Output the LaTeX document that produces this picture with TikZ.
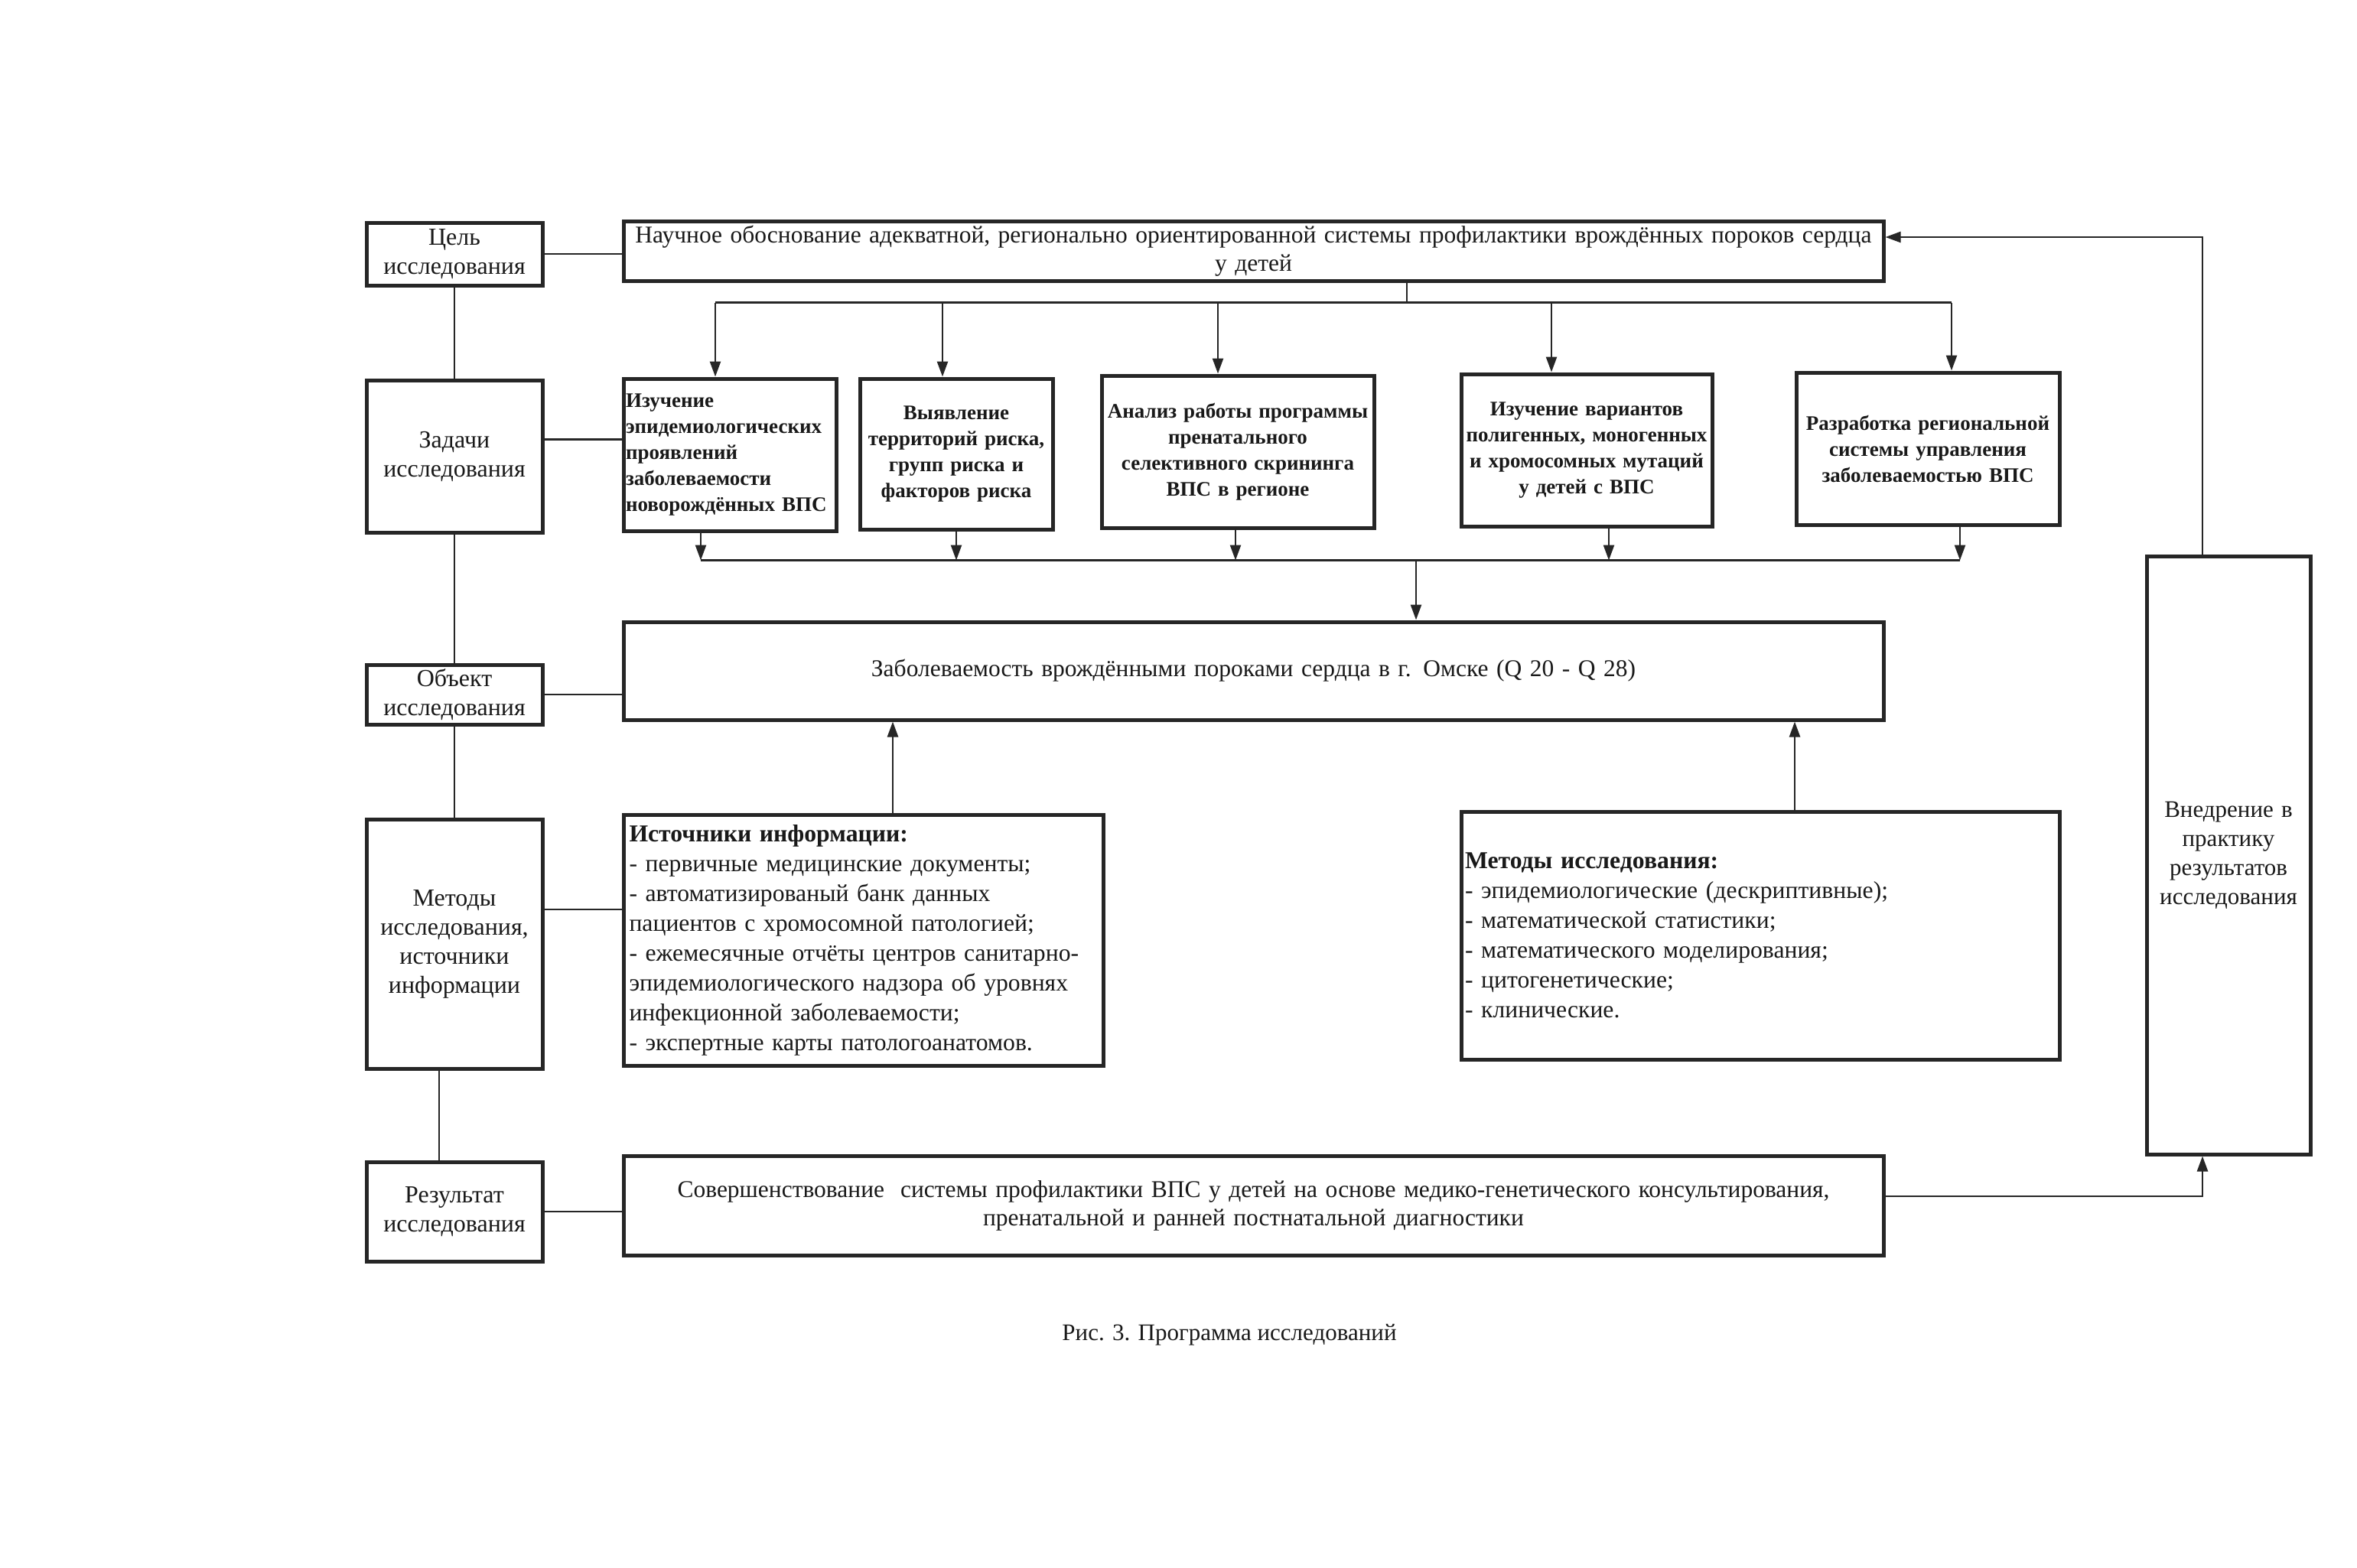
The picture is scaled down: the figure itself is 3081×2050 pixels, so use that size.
\documentclass[tikz,border=0pt]{standalone}
\usepackage{fontspec}
\setmainfont{Liberation Serif}
\usetikzlibrary{arrows.meta,calc}
\begin{document}
\begin{tikzpicture}[x=1pt,y=-1pt,
 box/.style={draw=black!85, line width=5pt, inner sep=4pt, text=black!90, font=\fontsize{31.5}{37}\selectfont, align=center},
 lab/.style={box, minimum width=230pt, text width=222pt, font=\fontsize{32}{38}\selectfont},
 task/.style={box, font=\bfseries\fontsize{27}{34}\selectfont},
 list/.style={box, align=left, font=\fontsize{31.7}{39}\selectfont},
 conn/.style={line width=2.5pt, draw=black!85},
 arr/.style={conn, -{Triangle[length=20pt,width=14pt]}},
]
\useasboundingbox[fill=white] (0,0) rectangle (3081,2050);

% left column
\node[lab, minimum height=82pt] (cel) at (594,332) {Цель\\исследования};
\node[lab, minimum height=199pt] (zad) at (594,596.5) {Задачи\\исследования};
\node[lab, minimum height=78pt] (obj) at (594,908) {Объект\\исследования};
\node[lab, minimum height=326pt] (met) at (594,1234) {Методы\\исследования,\\источники\\информации};
\node[lab, minimum height=130pt] (res) at (594,1584) {Результат\\исследования};

% goal
\node[box, minimum width=1647pt, minimum height=78pt, text width=1641pt, inner sep=3pt] (goal) at (1638.5,328)
 {Научное обоснование адекватной, регионально ориентированной системы профилактики врождённых пороков сердца\\у детей};

% tasks
\node[task, minimum width=278pt, minimum height=199pt, text width=272pt, inner sep=3pt, align=left] (t1) at (954,594.5)
 {Изучение\\эпидемиологических\\проявлений\\заболеваемости\\новорождённых ВПС};
\node[task, minimum width=252pt, minimum height=197pt, text width=246pt, inner sep=3pt] (t2) at (1250,593.5)
 {Выявление\\территорий риска,\\групп риска и\\факторов риска};
\node[task, minimum width=356pt, minimum height=199pt, text width=350pt, inner sep=3pt] (t3) at (1618,590.5)
 {Анализ работы программы\\пренатального\\селективного скрининга\\ВПС в регионе};
\node[task, minimum width=328pt, minimum height=199pt, text width=322pt, inner sep=3pt] (t4) at (2074,588.5)
 {Изучение вариантов\\полигенных, моногенных\\и хромосомных мутаций\\у детей с ВПС};
\node[task, minimum width=344pt, minimum height=199pt, text width=338pt, inner sep=3pt] (t5) at (2520,586.5)
 {Разработка региональной\\системы управления\\заболеваемостью ВПС};

% object
\node[box, minimum width=1647pt, minimum height=128pt, text width=1639pt] (zab) at (1638.5,877)
 {Заболеваемость врождёнными пороками сердца в г. Омске (Q 20 - Q 28)};

% sources and methods
\node[list, minimum width=627pt, minimum height=328pt, text width=612pt] (src) at (1128.5,1229)
 {\textbf{Источники информации:}\\- первичные медицинские документы;\\- автоматизированый банк данных\\пациентов с хромосомной патологией;\\- ежемесячные отчёты центров санитарно-\\эпидемиологического надзора об уровнях\\инфекционной заболеваемости;\\- экспертные карты патологоанатомов.};
\node[list, minimum width=782pt, minimum height=324pt, text width=772pt] (met2) at (2301,1223)
 {\textbf{Методы исследования:}\\- эпидемиологические (дескриптивные);\\- математической статистики;\\- математического моделирования;\\- цитогенетические;\\- клинические.};

% result
\node[box, minimum width=1647pt, minimum height=130pt, text width=1639pt] (sov) at (1638.5,1576)
 {Совершенствование\ \ системы профилактики ВПС у детей на основе медико-генетического консультирования,\\пренатальной и ранней постнатальной диагностики};

% implementation
\node[box, minimum width=214pt, minimum height=782pt, text width=206pt, font=\fontsize{31}{38}\selectfont] (vn) at (2913,1118)
 {Внедрение в\\практику\\результатов\\исследования};

% caption
\node[font=\fontsize{31}{36}\selectfont, text=black!90] (cap) at (1607,1745) {Рис. 3. Программа исследований};

% left spine
\draw[conn] (cel) -- (zad);
\draw[conn] (zad) -- (obj);
\draw[conn] (obj) -- (met);
\draw[conn] ([xshift=-20pt]met.south) -- ([xshift=-20pt]res.north);

% horizontal links
\draw[conn] (cel.east) -- (cel.east -| goal.west);
\draw[conn] ([yshift=22pt]zad.east) -- ([yshift=22pt]zad.east -| t1.west);
\draw[conn] (obj.east) -- (obj.east -| zab.west);
\draw[conn] ([yshift=45pt]met.east) -- ([yshift=45pt]met.east -| src.west);
\draw[conn] (res.east) -- (res.east -| sov.west);

% top distribution
\coordinate (stem) at ([xshift=200.5pt]goal.south);
\coordinate (bt) at ($(stem)+(0,26)$);
\draw[conn] (stem) -- (bt);
\coordinate (a1) at ([xshift=-19pt]t1.north);
\coordinate (a2) at ([xshift=-18pt]t2.north);
\coordinate (a3) at ([xshift=-26pt]t3.north);
\coordinate (a4) at ([xshift=-46pt]t4.north);
\coordinate (a5) at ([xshift=31pt]t5.north);
\draw[conn] (a1 |- bt) -- (a5 |- bt);
\foreach \i in {1,...,5} {\draw[arr] (a\i |- bt) -- (a\i);}

% bottom collection
\coordinate (bb) at ([xshift=212.5pt,yshift=78pt]zab.north);
\coordinate (b1) at ([xshift=-38pt]t1.south);
\coordinate (b2) at (t2.south);
\coordinate (b3) at ([xshift=-3pt]t3.south);
\coordinate (b4) at ([xshift=29pt]t4.south);
\coordinate (b5) at ([xshift=42pt]t5.south);
\foreach \i in {1,...,5} {\draw[arr] (b\i) -- (b\i |- bb);}
\draw[conn] (b1 |- bb) -- (b5 |- bb);
\draw[arr] (bb) -- (bb |- zab.north);

% up arrows to object
\draw[arr] ([xshift=38.5pt]src.north) -- ([xshift=38.5pt]src.north |- zab.south);
\draw[arr] ([xshift=45pt]met2.north) -- ([xshift=45pt]met2.north |- zab.south);

% feedback loop
\draw[arr] ([yshift=12pt]sov.east) -| ([xshift=-34pt]vn.south);
\draw[arr] ([xshift=-34pt]vn.north) |- ([yshift=18pt]goal.east);
\end{tikzpicture}
\end{document}
